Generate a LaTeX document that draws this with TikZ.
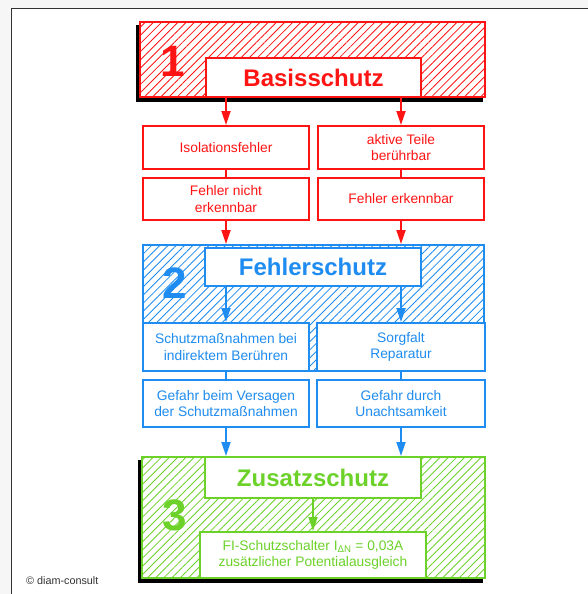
\documentclass[tikz,border=0pt]{standalone}
\usepackage{fontspec}
\setmainfont{Liberation Sans}
\usetikzlibrary{arrows.meta,patterns.meta}
\definecolor{cred}{HTML}{FF1414}
\definecolor{cblue}{HTML}{1E8CF0}
\definecolor{cgreen}{HTML}{6CD22A}
\definecolor{frameline}{HTML}{333333}
\tikzset{
  outerbox/.style={draw=#1, line width=2pt, pattern={Lines[angle=45,distance=5.8pt,line width=0.85pt]}, pattern color=#1, inner sep=0pt},
  titlebox/.style={draw=#1, fill=white, line width=2pt, text=#1, font=\fontsize{24}{28}\selectfont\bfseries, inner sep=0pt},
  smallbox/.style={draw=#1, fill=white, line width=2pt, text=#1, align=center, font=\fontsize{13.8}{16.5}\selectfont, inner sep=0pt},
  bignum/.style={text=#1, font=\fontsize{44}{44}\selectfont\bfseries, inner sep=0pt},
  arr/.style={draw=#1, line width=1.8pt, -{Triangle[length=14pt,width=9pt]}},
  link/.style={draw=#1, line width=1.8pt},
  shadow/.style={fill=black, draw=black, line width=2pt, inner sep=0pt}
}
\begin{document}
\begin{tikzpicture}[x=1pt,y=-1pt]
\useasboundingbox (0,0) rectangle (588,594);
% frame
\fill[gray!7] (0,0) rectangle (588,594);
\fill[white] (11,8) rectangle (588,594);
\draw[frameline, line width=1.5pt] (11.5,594) -- (11.5,8.5) -- (588,8.5);

% ===== Box 1 =====
\node[shadow, minimum width=345pt, minimum height=75pt] (sh1) at (309.5,63.5) {};
\fill[white] (140,22) rectangle (485,97);
\node[outerbox=cred, minimum width=345pt, minimum height=75pt] (b1) at (312.5,59.5) {};
\node[bignum=cred] (n1) at (173,61) {1};
\node[titlebox=cred, minimum width=215pt, minimum height=39pt] (t1) at (313.5,77.5) {Basisschutz};

\node[smallbox=cred, minimum width=166pt, minimum height=43pt] (iso) at (226,147.5) {Isolationsfehler};
\node[smallbox=cred, minimum width=166pt, minimum height=43pt] (akt) at (401,147.5) {aktive Teile\\berührbar};
\node[smallbox=cred, minimum width=166pt, minimum height=42pt] (fne) at (226,199) {Fehler nicht\\erkennbar};
\node[smallbox=cred, minimum width=166pt, minimum height=42pt] (fe) at (401,199) {Fehler erkennbar};

\draw[arr=cred] (t1.south -| iso.north) -- (iso.north);
\draw[arr=cred] (t1.south -| akt.north) -- (akt.north);
\draw[link=cred] (iso.south) -- (fne.north);
\draw[link=cred] (akt.south) -- (fe.north);

% ===== Box 2 =====
\node[outerbox=cblue, minimum width=341pt, minimum height=126pt] (b2) at (313.5,308) {};
\node[bignum=cblue] (n2) at (175,283) {2};
\node[titlebox=cblue, minimum width=216pt, minimum height=38pt] (t2) at (313,267) {Fehlerschutz};
\node[smallbox=cblue, minimum width=166pt, minimum height=48pt] (smn) at (226,347) {Schutzmaßnahmen bei\\indirektem Berühren};
\node[smallbox=cblue, minimum width=168pt, minimum height=48pt] (sor) at (401,347) {Sorgfalt\\Reparatur};
\node[smallbox=cblue, minimum width=166pt, minimum height=47pt] (gbv) at (226,403.5) {Gefahr beim Versagen\\der Schutzmaßnahmen};
\node[smallbox=cblue, minimum width=168pt, minimum height=47pt] (gdu) at (401,403.5) {Gefahr durch\\Unachtsamkeit};

\draw[arr=cred] (fne.south) -- (fne.south |- b2.north);
\draw[arr=cred] (fe.south) -- (fe.south |- b2.north);
\draw[arr=cblue] (t2.south -| smn.north) -- (smn.north);
\draw[arr=cblue] (t2.south -| sor.north) -- (sor.north);
\draw[link=cblue] (smn.south) -- (gbv.north);
\draw[link=cblue] (sor.south) -- (gdu.north);

% ===== Box 3 =====
\node[shadow, minimum width=343pt, minimum height=121pt] (sh3) at (310.5,521.5) {};
\fill[white] (142,457) rectangle (485,578);
\node[outerbox=cgreen, minimum width=343pt, minimum height=121pt] (b3) at (313.5,517.5) {};
\node[bignum=cgreen] (n3) at (175,515) {3};
\node[titlebox=cgreen, minimum width=216pt, minimum height=41pt] (t3) at (313,477.5) {Zusatzschutz};
\node[smallbox=cgreen, minimum width=226pt, minimum height=46pt] (fi) at (313,555) {FI-Schutzschalter I\textsubscript{ΔN} = 0,03A\\zusätzlicher Potentialausgleich};

\draw[arr=cblue] (gbv.south) -- (gbv.south |- b3.north);
\draw[arr=cblue] (gdu.south) -- (gdu.south |- b3.north);
\draw[arr=cgreen] (t3.south) -- (fi.north);

% copyright
\node[anchor=west, text=frameline, font=\fontsize{10.8}{12}\selectfont, inner sep=0pt] (copy) at (26,581) {© diam-consult};
\end{tikzpicture}
\end{document}
